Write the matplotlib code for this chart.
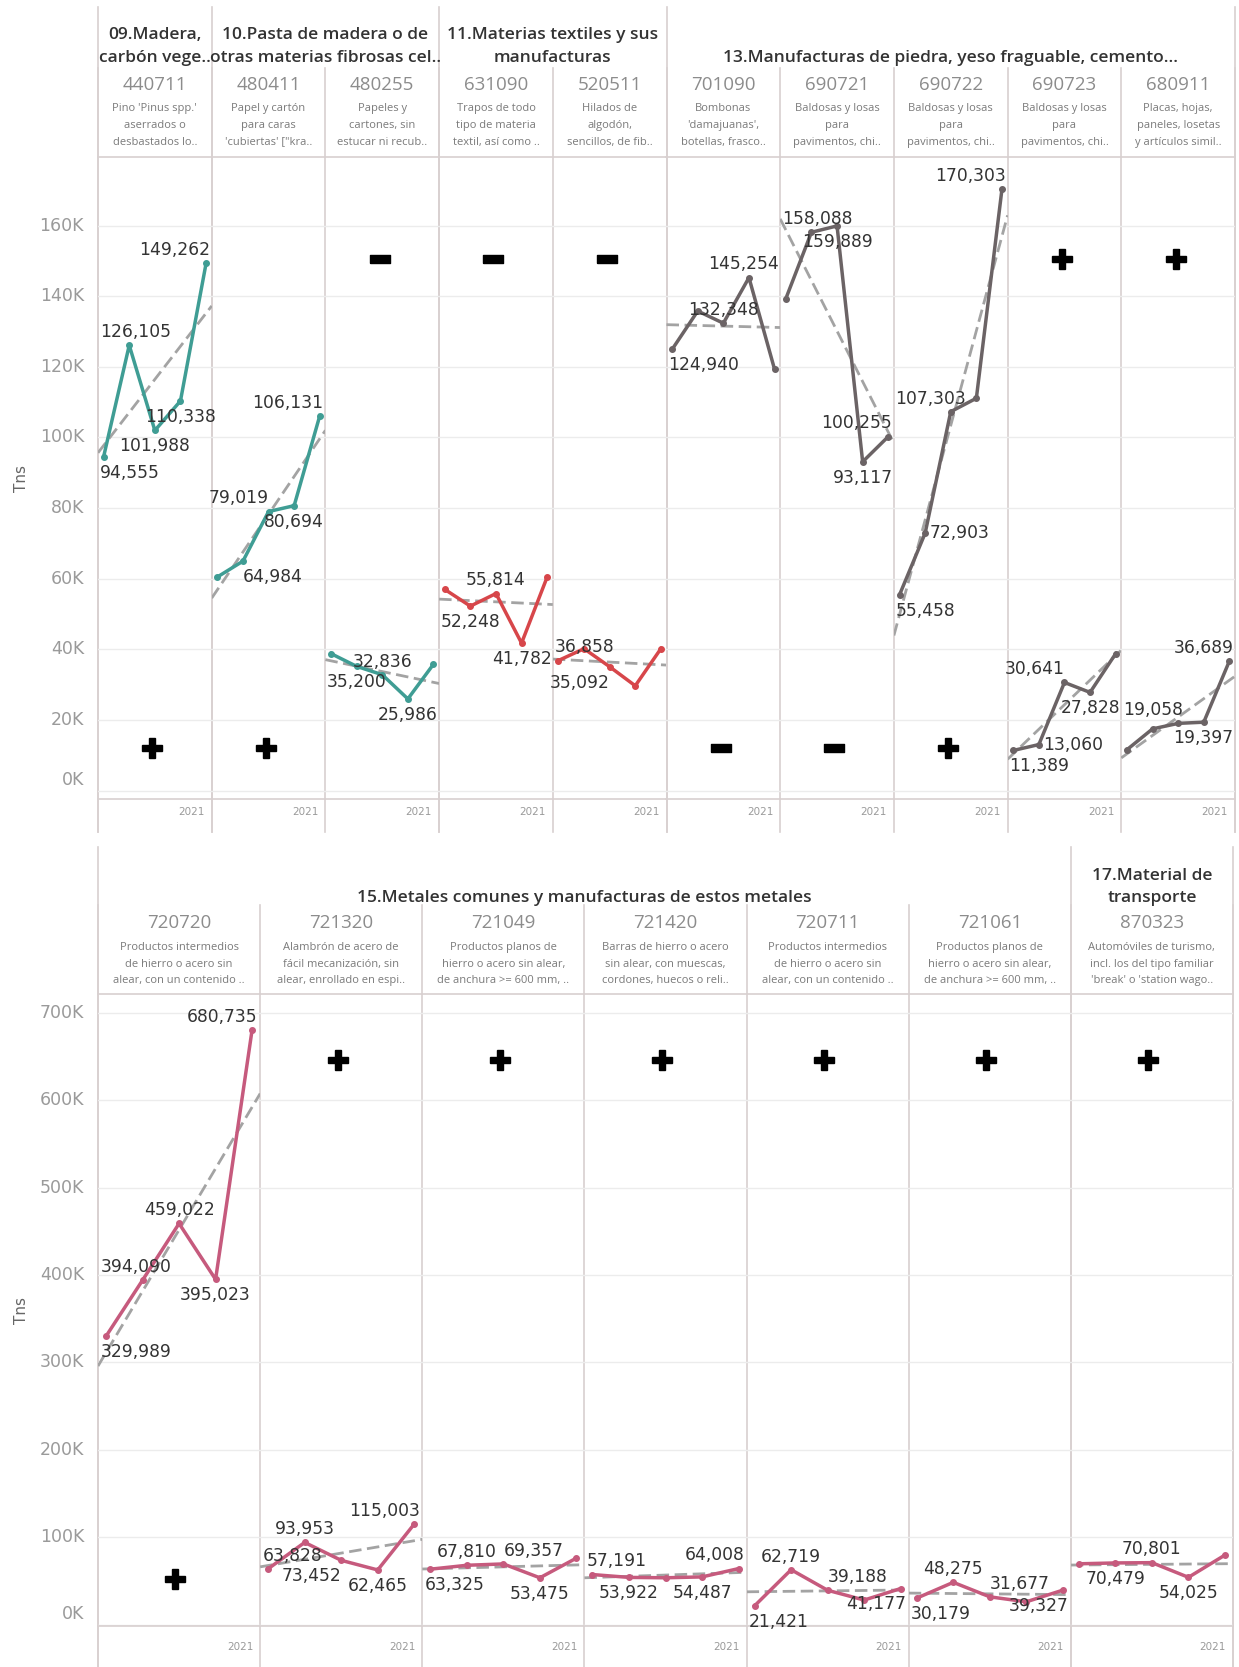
import matplotlib.pyplot as plt
import matplotlib.transforms as mtransforms
import numpy as np

# ------------------------------------------------------
# data
# ------------------------------------------------------
top_groups = ["09.Madera,\ncarbón vege..",
              "10.Pasta de madera o de\notras materias fibrosas cel..",
              "11.Materias textiles y sus\nmanufacturas",
              "13.Manufacturas de piedra, yeso fraguable, cemento..."]
top_group_span = [(0, 1), (1, 3), (3, 5), (5, 10)]
top_codes = ["440711", "480411", "480255", "631090", "520511",
             "701090", "690721", "690722", "690723", "680911"]
top_desc = [["Pino 'Pinus spp.'", "aserrados o", "desbastados lo.."],
            ["Papel y cartón", "para caras", "'cubiertas' [\"kra.."],
            ["Papeles y", "cartones, sin", "estucar ni recub.."],
            ["Trapos de todo", "tipo de materia", "textil, así como .."],
            ["Hilados de", "algodón,", "sencillos, de fib.."],
            ["Bombonas", "'damajuanas',", "botellas, frasco.."],
            ["Baldosas y losas", "para", "pavimentos, chi.."],
            ["Baldosas y losas", "para", "pavimentos, chi.."],
            ["Baldosas y losas", "para", "pavimentos, chi.."],
            ["Placas, hojas,", "paneles, losetas", "y artículos simil.."]]
top_values = [[94555, 126105, 101988, 110338, 149262],
              [60500, 64984, 79019, 80694, 106131],
              [38800, 35200, 32836, 25986, 35800],
              [57000, 52248, 55814, 41782, 60500],
              [36858, 40200, 35092, 29700, 40200],
              [124940, 135800, 132348, 145254, 119300],
              [139300, 158088, 159889, 93117, 100255],
              [55458, 72903, 107303, 111100, 170303],
              [11389, 13060, 30641, 27828, 38800],
              [11600, 17500, 19058, 19397, 36689]]
top_signs = ["+", "+", "-", "-", "-", "-", "-", "+", "+", "+"]

bot_groups = ["15.Metales comunes y manufacturas de estos metales",
              "17.Material de\ntransporte"]
bot_group_span = [(0, 6), (6, 7)]
bot_codes = ["720720", "721320", "721049", "721420", "720711", "721061", "870323"]
bot_desc = [["Productos intermedios", "de hierro o acero sin", "alear, con un contenido .."],
            ["Alambrón de acero de", "fácil mecanización, sin", "alear, enrollado en espi.."],
            ["Productos planos de", "hierro o acero sin alear,", "de anchura >= 600 mm, .."],
            ["Barras de hierro o acero", "sin alear, con muescas,", "cordones, huecos o reli.."],
            ["Productos intermedios", "de hierro o acero sin", "alear, con un contenido .."],
            ["Productos planos de", "hierro o acero sin alear,", "de anchura >= 600 mm, .."],
            ["Automóviles de turismo,", "incl. los del tipo familiar", "'break' o 'station wago.."]]
bot_values = [[329989, 394090, 459022, 395023, 680735],
              [63828, 93953, 73452, 62465, 115003],
              [63325, 67810, 69357, 53475, 76000],
              [57191, 53922, 53500, 54487, 64008],
              [21421, 62719, 39188, 28000, 41177],
              [30179, 48275, 31677, 26000, 39327],
              [69500, 70479, 70801, 54025, 79500]]
bot_signs = ["+", "+", "+", "+", "+", "+", "+"]

# where the +/- sign sits (lo / hi) and which points carry a label
top_sign_pos = ["lo", "lo", "hi", "hi", "hi", "lo", "lo", "lo", "hi", "hi"]
bot_sign_pos = ["lo", "hi", "hi", "hi", "hi", "hi", "hi"]
# a/b/m = above/below/middle, c/l/r = anchored on point, L/R = panel edge
top_labels = [{0: "bL", 1: "aL", 2: "bc", 3: "bc", 4: "aR"},
              {1: "bl", 2: "ar", 3: "bc", 4: "aR"},
              {1: "bL", 2: "ac", 3: "bc"},
              {1: "bL", 2: "ac", 3: "bc"},
              {0: "aL", 2: "br"},
              {0: "bL", 2: "ac", 3: "aR"},
              {1: "aL", 2: "bc", 3: "bc", 4: "aR"},
              {0: "bL", 1: "ml", 2: "aL", 4: "aR"},
              {0: "bL", 1: "ml", 2: "ar", 3: "bc"},
              {2: "aL", 3: "bR", 4: "aR"}]
bot_labels = [{0: "bL", 1: "aL", 2: "ac", 3: "bc", 4: "aR"},
              {0: "aL", 1: "ac", 2: "br", 3: "bc", 4: "aR"},
              {0: "bL", 1: "ac", 2: "al", 3: "bc"},
              {0: "aL", 1: "bc", 3: "bc", 4: "aR"},
              {0: "bL", 1: "ac", 2: "al", 4: "bR"},
              {0: "bL", 1: "ac", 2: "al", 4: "bR"},
              {1: "bc", 2: "ac", 3: "bc"}]

TEAL, RED, GREY, PINK = "#3f9d94", "#d7464a", "#6b6365", "#c65a7d"
top_colors = [TEAL, TEAL, TEAL, RED, RED, GREY, GREY, GREY, GREY, GREY]
bot_colors = [PINK] * 7

# ------------------------------------------------------
# layout (pixels)
# ------------------------------------------------------
W, H = 1239, 1667
plt.rcParams['font.family'] = ['DejaVu Sans']
HEAD_FONT = ['Open Sans', 'DejaVu Sans']
fig = plt.figure(figsize=(W / 100, H / 100), dpi=100)
fig.patch.set_facecolor('white')

ov = fig.add_axes([0, 0, 1, 1])
ov.set_xlim(0, W)
ov.set_ylim(H, 0)
ov.axis('off')

BORDER = "#d8d0d0"
GRID = "#ececec"
XL = (-0.22, 4.22)
minus_marker = [(-1, -0.34), (1, -0.34), (1, 0.34), (-1, 0.34), (-1, -0.34)]


def draw_label(ax, x, y, txt, spec):
    v, h = spec[0], spec[1]
    if h in "LR":
        trans = mtransforms.blended_transform_factory(ax.transAxes, ax.transData)
        xx = 0.015 if h == "L" else 0.985
        ha = "left" if h == "L" else "right"
    else:
        trans = ax.transData
        xx = x
        ha = {"c": "center", "l": "left", "r": "right"}[h]
    dx = 3 if v == "m" else 0
    dy = {"a": 3, "b": -5, "m": 0}[v]
    va = {"a": "bottom", "b": "top", "m": "center"}[v]
    ax.annotate(txt, (xx, y), xycoords=trans, xytext=(dx, dy),
                textcoords='offset points', ha=ha, va=va,
                fontsize=12.3, color="#333333", zorder=6)


def draw_section(edges, y_top, y_bot, ylim, ticks, values, colors, labels,
                 signs, sign_pos, sign_y, xlab_y, xlab_dx):
    n = len(values)
    for i in range(n):
        x0, x1 = edges[i], edges[i + 1]
        ax = fig.add_axes([x0 / W, 1 - y_bot / H, (x1 - x0) / W, (y_bot - y_top) / H])
        ax.set_facecolor('none')
        ax.set_xlim(*XL)
        ax.set_ylim(*ylim)
        ax.set_xticks([])
        ax.set_yticks(ticks)
        ax.set_yticklabels([])
        ax.yaxis.grid(True, color=GRID, lw=1)
        ax.set_axisbelow(True)
        ax.tick_params(axis='y', length=0)
        if i == 0:
            tr = mtransforms.blended_transform_factory(ax.transAxes, ax.transData)
            for t in ticks:
                ax.annotate(f"{int(t / 1000)}K", (0, t), xycoords=tr,
                            xytext=(-10, 1 if t == 0 else 0), textcoords='offset points',
                            ha='right', va='bottom' if t == 0 else 'center',
                            fontsize=12.5, color="#9a9a9a")
        for s in ["left", "right"]:
            ax.spines[s].set_visible(False)
        for s in ["top", "bottom"]:
            ax.spines[s].set_color(BORDER)
            ax.spines[s].set_linewidth(1.2)

        x = np.arange(len(values[i]))
        y = np.array(values[i], dtype=float)
        # linear trend
        k, b = np.polyfit(x, y, 1)
        xt = np.array(XL)
        ax.plot(xt, k * xt + b, color="#a3a3a3", lw=2, dashes=(4.5, 2), zorder=2)
        ax.plot(x, y, color=colors[i], lw=2.5, marker='o', ms=4, zorder=3)
        for j, spec in labels[i].items():
            draw_label(ax, x[j], y[j], f"{values[i][j]:,}", spec)

        sy = sign_y[0] if sign_pos[i] == "lo" else sign_y[1]
        if signs[i] == "+":
            ax.plot([1.9], [sy], marker='P', ms=15, color='black', zorder=5)
        else:
            ax.plot([1.9], [sy], marker=minus_marker, ms=15, color='black', zorder=5)

        ov.text(x1 - xlab_dx, xlab_y, "2021", ha='right', va='center',
                fontsize=7.5, color="#9a9a9a")


# ------------------------------------------------------
# top section
# ------------------------------------------------------
top_edges = np.linspace(98, 1235, 11)
T_TOP, T_BOT, T_END = 157, 799, 832
for e in top_edges:
    ov.plot([e, e], [68, T_END], color=BORDER, lw=1.2, zorder=0)
for a, b in top_group_span:
    ov.plot([top_edges[a]] * 2, [7, T_END], color=BORDER, lw=1.2, zorder=0)
ov.plot([top_edges[-1]] * 2, [7, T_END], color=BORDER, lw=1.2, zorder=0)

for title, (a, b) in zip(top_groups, top_group_span):
    cx = (top_edges[a] + top_edges[b]) / 2
    lines = title.split("\n")
    rows = [35, 58] if len(lines) == 2 else [58]
    for t, yy in zip(lines, rows):
        ov.text(cx, yy, t, ha='center', va='center', fontsize=12.5,
                fontweight='semibold', color="#333333", family=HEAD_FONT)
for i in range(10):
    cx = (top_edges[i] + top_edges[i + 1]) / 2
    ov.text(cx, 85, top_codes[i], ha='center', va='center', fontsize=13.5,
            color="#8c8c8c", family=HEAD_FONT)
    for t, yy in zip(top_desc[i], [108, 125, 142]):
        ov.text(cx, yy, t, ha='center', va='center', fontsize=8,
                color="#7a7a7a", family=HEAD_FONT)

draw_section(top_edges, T_TOP, T_BOT, (-2350, 179400), np.arange(0, 160001, 20000),
             top_values, top_colors, top_labels, top_signs, top_sign_pos,
             (12000, 150400), 812, 7)
ov.text(21, (T_TOP + T_BOT) / 2, "Tns", rotation=90, ha='center', va='center',
        fontsize=11, color="#666666")

# ------------------------------------------------------
# bottom section
# ------------------------------------------------------
bot_edges = np.linspace(98, 1233, 8)
B_TOP, B_BOT, B_END = 994, 1626, 1667
for e in bot_edges:
    ov.plot([e, e], [905, B_END], color=BORDER, lw=1.2, zorder=0)
for a, b in bot_group_span:
    ov.plot([bot_edges[a]] * 2, [847, B_END], color=BORDER, lw=1.2, zorder=0)
ov.plot([bot_edges[-1]] * 2, [847, B_END], color=BORDER, lw=1.2, zorder=0)

for title, (a, b) in zip(bot_groups, bot_group_span):
    cx = (bot_edges[a] + bot_edges[b]) / 2
    lines = title.split("\n")
    rows = [876, 898] if len(lines) == 2 else [898]
    for t, yy in zip(lines, rows):
        ov.text(cx, yy, t, ha='center', va='center', fontsize=12.5,
                fontweight='semibold', color="#333333", family=HEAD_FONT)
for i in range(7):
    cx = (bot_edges[i] + bot_edges[i + 1]) / 2
    ov.text(cx, 923, bot_codes[i], ha='center', va='center', fontsize=13.5,
            color="#8c8c8c", family=HEAD_FONT)
    for t, yy in zip(bot_desc[i], [947, 964, 980]):
        ov.text(cx, yy, t, ha='center', va='center', fontsize=8,
                color="#7a7a7a", family=HEAD_FONT)

draw_section(bot_edges, B_TOP, B_BOT, (-1700, 721700), np.arange(0, 700001, 100000),
             bot_values, bot_colors, bot_labels, bot_signs, bot_sign_pos,
             (52000, 646000), 1647, 7)
ov.text(21, (B_TOP + B_BOT) / 2, "Tns", rotation=90, ha='center', va='center',
        fontsize=11, color="#666666")

fig.savefig("out.png", dpi=100, facecolor='white')
